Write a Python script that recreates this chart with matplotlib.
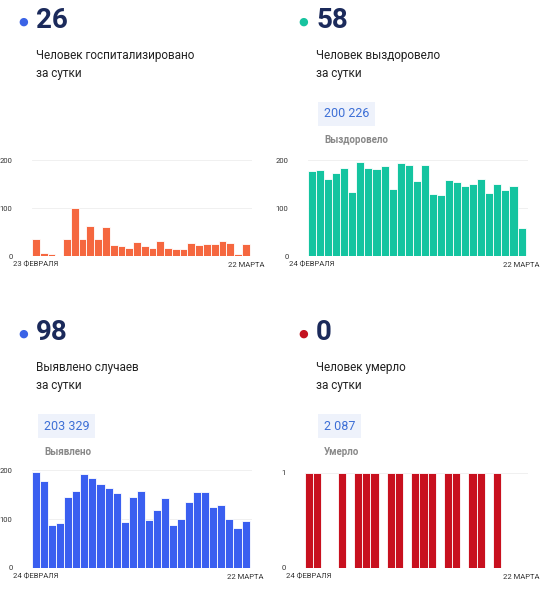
import matplotlib
matplotlib.use('Agg')
import matplotlib.pyplot as plt
from matplotlib.patches import FancyBboxPatch

plt.rcParams['font.family'] = ['Roboto', 'DejaVu Sans']

hosp = [36, 7, 4, 0, 36, 100, 36, 62, 35, 60, 24, 20, 16, 30, 20, 16, 32, 17, 14, 14,
        28, 22, 25, 25, 32, 27, 5, 26]
recovered = [178, 179, 162, 173, 185, 133, 196, 185, 183, 188, 141, 194, 191, 156, 191,
             129, 127, 159, 155, 146, 151, 162, 131, 150, 139, 146, 58]
detected = [196, 178, 89, 92, 146, 158, 192, 185, 173, 164, 153, 94, 146, 158, 99, 118,
            143, 89, 101, 135, 156, 155, 125, 129, 101, 82, 97]
deaths = [1, 1, 0, 0, 1, 0, 1, 1, 1, 0, 1, 1, 0, 1, 1, 1, 0, 1, 1, 0, 1, 1, 0, 1, 0, 0, 0]

W, H = 555, 600
fig = plt.figure(figsize=(W / 100, H / 100), dpi=100)
fig.patch.set_facecolor('white')

def px(x, y):
    return x / W, 1 - y / H

def panel(x0, y0, dot, big, line1, total, total_label, data, color, ymax, yticks,
          start_label, ax_box, n_slots=None):
    # header block
    fig.text(*px(x0, y0 + 2), '●', color=dot, fontsize=8, va='center', ha='left')
    fig.text(*px(x0 + 18, y0), big, color='#1b2a5b', fontsize=20, fontweight='bold',
             va='center', ha='left')
    fig.text(*px(x0 + 18, y0 + 36), line1, color='#222222', fontsize=8.5, va='center')
    fig.text(*px(x0 + 18, y0 + 54), 'за сутки', color='#222222', fontsize=8.5, va='center')
    if total:
        bx, by = px(x0 + 26, y0 + 94)
        fig.text(bx, by, total, color='#3d6fd6', fontsize=9, va='center',
                 bbox=dict(boxstyle='square,pad=0.45', fc='#eef2fb', ec='none'))
        fig.text(*px(x0 + 26, y0 + 120), total_label, color='#888888', fontsize=7,
                 fontweight='bold', va='center')
    l, t, r, b = ax_box
    ax = fig.add_axes([l / W, 1 - b / H, (r - l) / W, (b - t) / H])
    n = n_slots or len(data)
    ax.bar(range(len(data)), data, width=1.0, color=color, edgecolor='white', linewidth=0.6)
    ax.set_xlim(-0.5, n - 0.5 + 0.3)
    ax.set_ylim(0, ymax)
    ax.set_yticks(yticks)
    ax.tick_params(axis='y', length=0, labelsize=5.5, labelcolor='#333333', pad=14)
    for s in ax.spines.values():
        s.set_visible(False)
    ax.grid(axis='y', color='#eeeeee', linewidth=0.6)
    ax.set_axisbelow(True)
    ax.set_xticks([0, len(data) - 1])
    ax.set_xticklabels([start_label, '22 МАРТА'])
    ax.tick_params(axis='x', length=0, labelsize=5.5, labelcolor='#333333', pad=4)
    for lab, ha in zip(ax.get_xticklabels(), ['center', 'center']):
        lab.set_ha(ha)
    return ax

panel(18, 20, '#3b63e6', '26', 'Человек госпитализировано', None, None, hosp,
      '#f5673f', 205, [0, 100, 200], '23 ФЕВРАЛЯ', (32, 158, 252, 256))
panel(298, 20, '#17c39f', '58', 'Человек выздоровело', '200 226', 'Выздоровело',
      recovered, '#14c4a0', 205, [0, 100, 200], '24 ФЕВРАЛЯ', (308, 158, 528, 256))
panel(18, 332, '#3b63e6', '98', 'Выявлено случаев', '203 329', 'Выявлено',
      detected, '#3a5ff0', 205, [0, 100, 200], '24 ФЕВРАЛЯ', (32, 468, 252, 568))
panel(298, 332, '#c4121f', '0', 'Человек умерло', '2 087', 'Умерло',
      deaths, '#c8101e', 1.03, [0, 1], '24 ФЕВРАЛЯ', (305, 470, 528, 568), n_slots=27)

fig.savefig('out.png', dpi=100, facecolor='white')
